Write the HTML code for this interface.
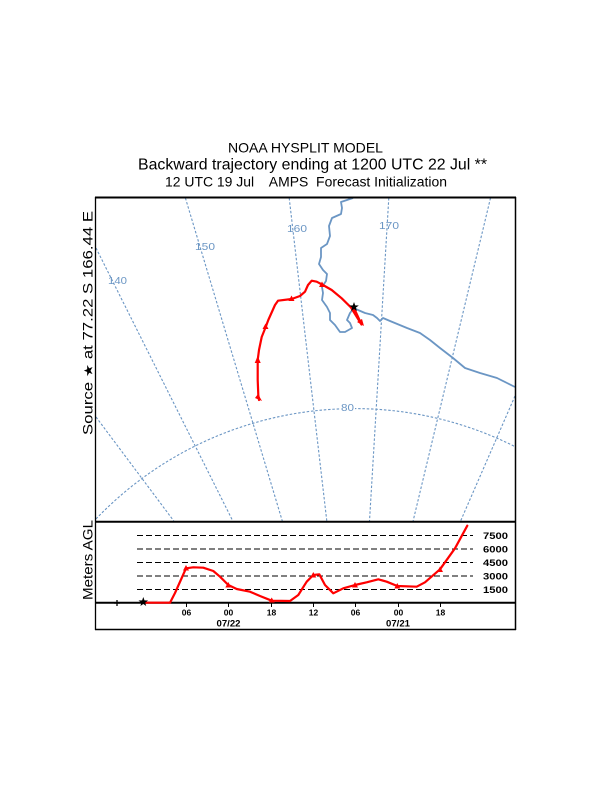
<!DOCTYPE html>
<html><head><meta charset="utf-8"><style>
html,body{margin:0;padding:0;background:#fff;width:612px;height:792px;overflow:hidden}
svg{display:block}
text{font-family:"Liberation Sans",Arial,sans-serif}
</style></head><body>
<svg width="612" height="792" viewBox="0 0 612 792" xmlns="http://www.w3.org/2000/svg">
<rect width="612" height="792" fill="#fff"/>

<!-- titles -->
<text x="305.5" y="152.5" font-size="14" text-anchor="middle" textLength="155" lengthAdjust="spacingAndGlyphs">NOAA HYSPLIT MODEL</text>
<text x="312.5" y="169.5" font-size="16" text-anchor="middle" textLength="349" lengthAdjust="spacingAndGlyphs">Backward trajectory ending at 1200 UTC 22 Jul **</text>
<text x="306" y="186.5" font-size="13.5" text-anchor="middle" textLength="282" lengthAdjust="spacingAndGlyphs" xml:space="preserve">12 UTC 19 Jul    AMPS  Forecast Initialization</text>

<!-- map grid -->
<g fill="none" stroke="#6b96c4" stroke-width="1.1" stroke-dasharray="2.5,1.8">
<line x1="96" y1="417" x2="173.8" y2="521"/>
<line x1="96" y1="248" x2="232.8" y2="521"/>
<line x1="185.4" y1="198" x2="282.3" y2="521"/>
<line x1="289.2" y1="198" x2="326.8" y2="521"/>
<line x1="388.8" y1="198" x2="369.5" y2="521"/>
<line x1="490.5" y1="198" x2="413.1" y2="521"/>
<line x1="515" y1="396" x2="460.6" y2="521"/>
<path d="M96,518.9 A358,358 0 0,1 515,446.6"/>
</g>
<g fill="#6b96c4" font-size="10.5">
<rect x="340" y="403" width="15" height="9" fill="#fff"/>
<text x="117.5" y="284" text-anchor="middle" textLength="19" lengthAdjust="spacingAndGlyphs">140</text>
<text x="205" y="250" text-anchor="middle" textLength="20" lengthAdjust="spacingAndGlyphs">150</text>
<text x="297" y="232" text-anchor="middle" textLength="20" lengthAdjust="spacingAndGlyphs">160</text>
<text x="389" y="229" text-anchor="middle" textLength="20" lengthAdjust="spacingAndGlyphs">170</text>
<text x="347.5" y="411" text-anchor="middle" textLength="13" lengthAdjust="spacingAndGlyphs">80</text>
</g>

<!-- coastline -->
<polyline fill="none" stroke="#6b96c4" stroke-width="1.8" stroke-linejoin="round" points="353,198 347,200 341,202 342,208 341,214 332,218 329,226 330,236 327,244 321,248 321,257 319,264 323,270 327,274 326,281 322,287 323,293 322,300 327,307 330,313 330,320 335,325 340,332 345,332 352,328 350,323 347,320 350,313 354,308 358,310 365,313 373,315 377,318 380,321 383,318 390,321 407,328 420,333 430,340 440,348 453,358 465,368 480,373 497,378 507,383 515,387"/>

<!-- trajectory on map -->
<g fill="none" stroke="#ff0000" stroke-width="2.2" stroke-linejoin="round" stroke-linecap="round">
<polyline points="353.5,307 361.5,324.5 351,307.5 341.7,298.3 331.7,290 323,285 316.7,281.7 311.7,280.7 308,285 305,291.7 300,296 291.7,299 278,300.7 275,305 268.3,320 265.7,327 261.7,337 259,350 257.7,360 257.7,380 258.3,395 259,400"/>
</g>
<g fill="#ff0000">
<polygon points="319,287 325,287 322,281.5"/>
<polygon points="288.5,301 294.5,301 291.5,295.5"/>
<polygon points="262.5,329 268.5,329 265.5,323.5"/>
<polygon points="254.7,363 260.7,363 257.7,356"/>
<polygon points="255,398 262,401 258,394"/>
<polygon points="357,322 364,326 362,319"/>
</g>
<!-- source star -->
<polygon fill="#000" transform="translate(354,307)" points="0,-5 1.2,-1.6 4.8,-1.5 1.9,0.6 2.9,4 0,2 -2.9,4 -1.9,0.6 -4.8,-1.5 -1.2,-1.6"/>

<!-- frame -->
<g fill="none" stroke="#000">
<line x1="95" y1="197.5" x2="516" y2="197.5" stroke-width="2"/>
<line x1="95.5" y1="197" x2="95.5" y2="630" stroke-width="1.3"/>
<line x1="515.5" y1="197" x2="515.5" y2="630" stroke-width="1.5"/>
<line x1="95" y1="521.8" x2="516" y2="521.8" stroke-width="2"/>
<line x1="95" y1="602.8" x2="516" y2="602.8" stroke-width="2"/>
<line x1="95" y1="629.5" x2="516" y2="629.5" stroke-width="1.5"/>
</g>

<!-- axis labels -->
<text transform="translate(92.5,323) rotate(-90)" font-size="13.5" text-anchor="middle" textLength="224" lengthAdjust="spacingAndGlyphs">Source <tspan font-family="DejaVu Sans" font-size="12">★</tspan> at  77.22 S  166.44 E</text>
<text transform="translate(92.5,560) rotate(-90)" font-size="13.5" text-anchor="middle" textLength="80" lengthAdjust="spacingAndGlyphs">Meters AGL</text>

<!-- height panel -->
<g stroke="#000" stroke-width="1" stroke-dasharray="6,3">
<line x1="137" y1="535.5" x2="473" y2="535.5"/>
<line x1="137" y1="549" x2="473" y2="549"/>
<line x1="137" y1="562.5" x2="473" y2="562.5"/>
<line x1="137" y1="576" x2="473" y2="576"/>
<line x1="137" y1="589.5" x2="473" y2="589.5"/>
</g>
<g font-size="9" font-weight="bold">
<text x="483" y="539" textLength="25" lengthAdjust="spacingAndGlyphs">7500</text>
<text x="483" y="552.5" textLength="25" lengthAdjust="spacingAndGlyphs">6000</text>
<text x="483" y="566" textLength="25" lengthAdjust="spacingAndGlyphs">4500</text>
<text x="483" y="579.5" textLength="25" lengthAdjust="spacingAndGlyphs">3000</text>
<text x="483" y="593" textLength="25" lengthAdjust="spacingAndGlyphs">1500</text>
</g>
<g stroke="#000" stroke-width="1">
<line x1="186.5" y1="603" x2="186.5" y2="607"/>
<line x1="228.5" y1="603" x2="228.5" y2="607"/>
<line x1="271.5" y1="603" x2="271.5" y2="607"/>
<line x1="313.5" y1="603" x2="313.5" y2="607"/>
<line x1="355.5" y1="603" x2="355.5" y2="607"/>
<line x1="398.5" y1="603" x2="398.5" y2="607"/>
<line x1="440.5" y1="603" x2="440.5" y2="607"/>
</g>
<g font-size="8.5" font-weight="bold" text-anchor="middle">
<text x="186.5" y="615.7">06</text>
<text x="228.5" y="615.7">00</text>
<text x="271.5" y="615.7">18</text>
<text x="313.5" y="615.7">12</text>
<text x="355.5" y="615.7">06</text>
<text x="398.5" y="615.7">00</text>
<text x="440.5" y="615.7">18</text>
<text x="228.5" y="626.7" font-size="9" textLength="24" lengthAdjust="spacingAndGlyphs">07/22</text>
<text x="398" y="626.7" font-size="9" textLength="24" lengthAdjust="spacingAndGlyphs">07/21</text>
</g>
<polyline fill="none" stroke="#ff0000" stroke-width="2.2" stroke-linejoin="round" stroke-linecap="round" points="143.3,602.7 170,602.7 175,593 181.7,578 186,568.3 193.3,567.3 203.3,567.7 213.3,571 220,576.7 228.3,585 236.7,589 250,591.7 260,596 271.7,600.7 290,601 298.3,595 306.7,581.7 313.3,575 319.3,574.3 325,585 333.3,593.3 343.3,588.3 355,585 366.7,582.3 378.3,579.3 386.7,581.7 397.3,586 416.7,586.7 425,582.3 440,569.3 455,548.3 467.3,525.7"/>
<g fill="#ff0000">
<polygon points="183,570.5 189,570.5 186,565"/>
<polygon points="225.3,587.5 231.3,587.5 228.3,582"/>
<polygon points="268.7,602.5 274.7,602.5 271.7,597.5"/>
<polygon points="310.3,577.5 316.3,577.5 313.3,572"/>
<polygon points="352,587.5 358,587.5 355,582"/>
<polygon points="394.3,588.5 400.3,588.5 397.3,583"/>
<polygon points="437,572 443,572 440,566.5"/>
</g>
<polygon fill="#000" transform="translate(143.3,602)" points="0,-5 1.2,-1.6 4.8,-1.5 1.9,0.6 2.9,4 0,2 -2.9,4 -1.9,0.6 -4.8,-1.5 -1.2,-1.6"/>
<g stroke="#000" stroke-width="1.3">
<line x1="114" y1="603" x2="120" y2="603"/>
<line x1="117" y1="600" x2="117" y2="606"/>
</g>
</svg>
</body></html>
